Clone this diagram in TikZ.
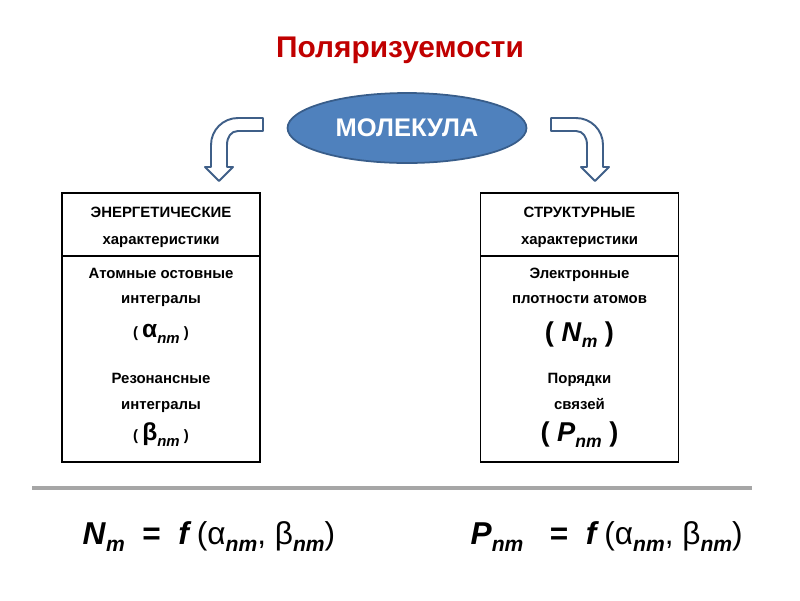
\documentclass[tikz,border=0pt]{standalone}
\usepackage{fontspec}
\setmainfont{Liberation Sans}
\usetikzlibrary{shapes.geometric, positioning}

\definecolor{titlered}{HTML}{C00000}
\definecolor{molfill}{HTML}{4F81BD}
\definecolor{moledge}{HTML}{385D8A}
\definecolor{arrowedge}{HTML}{3F5F88}
\definecolor{rulegray}{HTML}{A6A6A6}

% lowered index: drop, size, text
\newcommand{\lowidx}[3]{\raisebox{-#1}{\fontsize{#2}{#2}\selectfont\bfseries\itshape #3}}

\begin{document}
\begin{tikzpicture}[x=0.02cm, y=-0.02cm, thick, font=\bfseries\fontsize{8.5}{10}\selectfont,
    box/.style={draw, rectangle, minimum width=3.96cm, minimum height=5.38cm, line width=0.9pt, inner sep=0pt},
    txt/.style={inner sep=0pt, align=center, text height=0.72em, text depth=0.22em},
    big/.style={txt, font=\bfseries\fontsize{15.5}{17}\selectfont},
    rel/.style={txt, anchor=west, font=\fontsize{18}{20}\selectfont},
    bendarrow/.style={draw=arrowedge, line width=1.1pt, fill=white, line join=round}]

\useasboundingbox (0,0) rectangle (800,600);

% title and molecule
\node[txt, text=titlered, font=\bfseries\fontsize{17}{20}\selectfont] (title) at (400,53) {Поляризуемости};
\node[ellipse, draw=moledge, line width=1pt, fill=molfill, minimum width=4.78cm, minimum height=1.4cm,
      inner sep=0pt, text=white, font=\bfseries\fontsize{14.5}{16}\selectfont] (mol) at (407,128) {МОЛЕКУЛА};

% bent block arrows
\draw[bendarrow] (263,118) -- (238,118) .. controls (223,118) and (211,130) .. (211,145) -- (211,167)
  -- (205,167) -- (219,181) -- (233,167) -- (227,167) -- (227,145)
  .. controls (227,137) and (231,131) .. (238,131) -- (263,131) -- cycle;
\draw[bendarrow] (551,118) -- (576,118) .. controls (591,118) and (603,130) .. (603,145) -- (603,167)
  -- (609,167) -- (595,181) -- (581,167) -- (587,167) -- (587,145)
  .. controls (587,137) and (583,131) .. (576,131) -- (551,131) -- cycle;

% energy box
\node[box] (energy) at (161,327.5) {};
\coordinate (ecut) at (62,256);
\draw[line width=1.2pt] (ecut) -- (ecut -| energy.east);
\node[txt] (ehead) at (161,213) {ЭНЕРГЕТИЧЕСКИЕ};
\node[txt] (ehead2) at (161,240) {характеристики};
\node[txt] (core) at (161,274) {Атомные остовные};
\node[txt] (core2) at (161,299) {интегралы};
\node[txt] (alpha) at (161,333) {( {\fontsize{14}{16}\selectfont α}\lowidx{3.5pt}{8.5pt}{nm} )};
\node[txt] (res) at (161,379) {Резонансные};
\node[txt] (res2) at (161,405) {интегралы};
\node[txt] (beta) at (161,436) {( {\fontsize{14}{16}\selectfont β}\lowidx{3.5pt}{8.5pt}{nm} )};

% structure box
\node[box] (struct) at (579.5,327.5) {};
\coordinate (scut) at (481,256);
\draw[line width=1.2pt] (scut) -- (scut -| struct.east);
\node[txt] (shead) at (579.5,213) {СТРУКТУРНЫЕ};
\node[txt] (shead2) at (579.5,240) {характеристики};
\node[txt] (dens) at (579.5,274) {Электронные};
\node[txt] (dens2) at (579.5,299) {плотности атомов};
\node[big] (enm) at (579.5,337) {( \textit{N}\lowidx{3.5pt}{10pt}{m} )};
\node[txt] (ord) at (579.5,379) {Порядки};
\node[txt] (ord2) at (579.5,405) {связей};
\node[big] (pnm) at (579.5,437) {( \textit{P}\lowidx{3.5pt}{10pt}{nm} )};

% rule and relations
\coordinate (ruleL) at (32,488);
\coordinate (ruleR) at (752,488);
\draw[rulegray, line width=2pt] (ruleL) -- (ruleR);
\node[rel] (fn) at (82,540)
  {\textbf{\textit{N}}\lowidx{4pt}{12pt}{m}\ \ \textbf{=}\ \ \textbf{\textit{f}}\,(α\lowidx{4pt}{12pt}{nm}, β\lowidx{4pt}{12pt}{nm})};
\node[rel] (fp) at (470,540)
  {\textbf{\textit{P}}\lowidx{4pt}{12pt}{nm}\ \ \ \textbf{=}\ \ \textbf{\textit{f}}\,(α\lowidx{4pt}{12pt}{nm}, β\lowidx{4pt}{12pt}{nm})};
\end{tikzpicture}
\end{document}
